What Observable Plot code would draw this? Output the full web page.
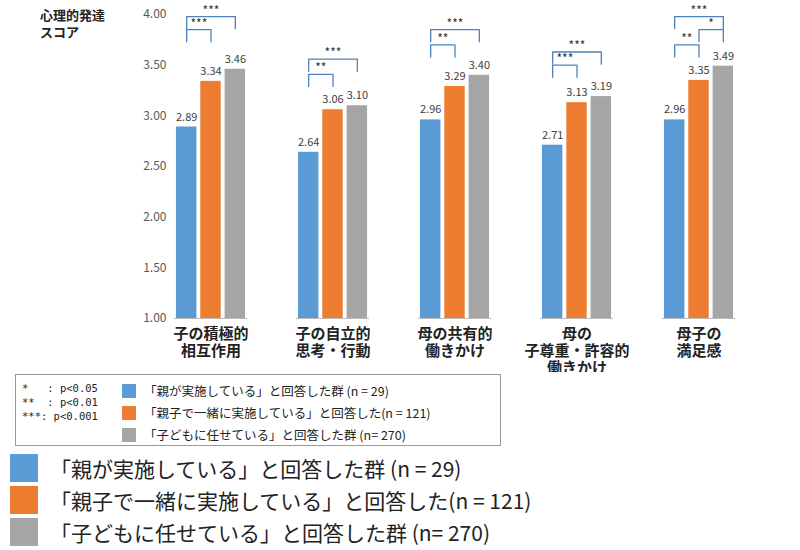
<!DOCTYPE html>
<html><head><meta charset="utf-8">
<script src="https://cdn.jsdelivr.net/npm/d3@7"></script>
<script src="https://cdn.jsdelivr.net/npm/@observablehq/plot@0.6"></script>
<style>
body{margin:0;background:#fff;font-family:"Noto Sans CJK JP","Noto Sans",sans-serif;}
#wrap{position:relative;width:800px;height:550px;overflow:hidden}
#chart{position:absolute;left:0;top:0}
.ytitle{position:absolute;left:40px;top:6px;font-size:13px;font-weight:bold;color:#222;line-height:17px}
.box{position:absolute;left:15px;top:374px;width:486px;height:72px;border:1px solid #999;box-sizing:border-box}
.notes{position:absolute;left:6px;top:6px;font-size:10.5px;line-height:14px;font-family:"DejaVu Sans Mono",monospace;color:#222;white-space:pre}
.row{position:absolute;left:106px;font-size:12.5px;color:#222;display:flex;align-items:center}
.sw{width:14px;height:14px;margin-right:8px}
.big{position:absolute;left:10px;font-size:21px;color:#222;display:flex;align-items:center}
.bsw{width:28px;height:28px;margin-right:12px}
</style></head><body>
<div id="wrap"><div id="chart"></div>
<div class="ytitle">心理的発達<br>スコア</div>
<div class="box"><div class="notes" id="notes"></div></div>
<div id="legs"></div>
</div>
<script>
const categories = ["子の積極的\n相互作用","子の自立的\n思考・行動","母の共有的\n働きかけ","母の\n子尊重・許容的\n働きかけ","母子の\n満足感"];
const seriesNames = ["「親が実施している」と回答した群 (n = 29)","「親子で一緒に実施している」と回答した(n = 121)","「子どもに任せている」と回答した群 (n= 270)"];
const colors = ["#5B9BD5","#ED7D31","#A5A5A5"];
const blueVals = [2.89,2.64,2.96,2.71,2.96];
const orangeVals = [3.34,3.06,3.29,3.13,3.35];
const grayVals = [3.46,3.10,3.40,3.19,3.49];
const yTicks = [1.00,1.50,2.00,2.50,3.00,3.50,4.00];
const sigNotes = ["*   : p<0.05","**  : p<0.01","***: p<0.001"];
const brackets = [
 [0,0,2,3.98,"***"],[0,0,1,3.85,"***"],
 [1,0,2,3.56,"***"],[1,0,1,3.41,"**"],
 [2,0,2,3.85,"***"],[2,0,1,3.70,"**"],
 [3,0,2,3.63,"***"],[3,0,1,3.50,"***"],
 [4,0,2,3.98,"***"],[4,0,1,3.70,"**"],[4,1,2,3.85,"*"]
];
const drop = 0.12;
const bars = [];
[blueVals,orangeVals,grayVals].forEach((vals,s)=>vals.forEach((v,c)=>bars.push({cat:categories[c],s,v})));
const bpts = [];
const blabels = [];
brackets.forEach(([c,a,b,lv,lab],i)=>{
  const cat=categories[c];
  [[a,lv-drop],[a,lv],[b,lv],[b,lv-drop]].forEach(([x,y])=>bpts.push({cat,id:i,x,y}));
  blabels.push({cat,x:(a+b)/2,y:lv,lab});
});
const chart = Plot.plot({
  width:800,height:372,marginLeft:150,marginRight:40,marginTop:14,marginBottom:54,
  style:{fontFamily:"'Noto Sans CJK JP',sans-serif",color:"#333"},
  fx:{domain:categories,paddingInner:0.4,paddingOuter:0.2,label:null,axis:null},
  x:{domain:[-0.5,2.5],axis:null},
  y:{domain:[1,4],ticks:yTicks,tickFormat:d=>d.toFixed(2),tickSize:0,label:null,axis:null},
  marks:[
    Plot.axisY({ticks:yTicks,tickFormat:d=>d.toFixed(2),tickSize:0,fontSize:12,fill:"#595959",tickPadding:8,label:null}),
    Plot.axisFx({anchor:"bottom",fontSize:15,fontWeight:"bold",fill:"#222",tickSize:0,tickPadding:8,lineHeight:1.15,label:null}),
    Plot.ruleY([1],{stroke:"#bbb"}),
    Plot.rectY(bars,{fx:"cat",x1:d=>d.s-0.42,x2:d=>d.s+0.42,y1:1,y2:"v",fill:d=>colors[d.s]}),
    Plot.text(bars,{fx:"cat",x:"s",y:"v",text:d=>d.v.toFixed(2),dy:-10,fontSize:11,fill:"#404040"}),
    Plot.line(bpts,{fx:"cat",x:"x",y:"y",z:"id",stroke:"#4F81BD",strokeWidth:1.3}),
    Plot.text(blabels,{fx:"cat",x:"x",y:"y",text:"lab",dy:-2,fontSize:12,fill:"#333",lineAnchor:"bottom"})
  ]
});
document.getElementById("chart").append(chart);
document.getElementById("notes").textContent = sigNotes.join("\n");
const box=document.querySelector(".box"), legs=document.getElementById("legs");
seriesNames.forEach((n,i)=>{
  const r=document.createElement("div");r.className="row";r.style.top=(6+i*22)+"px";
  r.innerHTML=`<div class="sw" style="background:${colors[i]}"></div>`;r.append(n);box.append(r);
  const b=document.createElement("div");b.className="big";b.style.top=(453+i*32)+"px";
  b.innerHTML=`<div class="bsw" style="background:${colors[i]}"></div>`;b.append(n);legs.append(b);
});
</script></body></html>
